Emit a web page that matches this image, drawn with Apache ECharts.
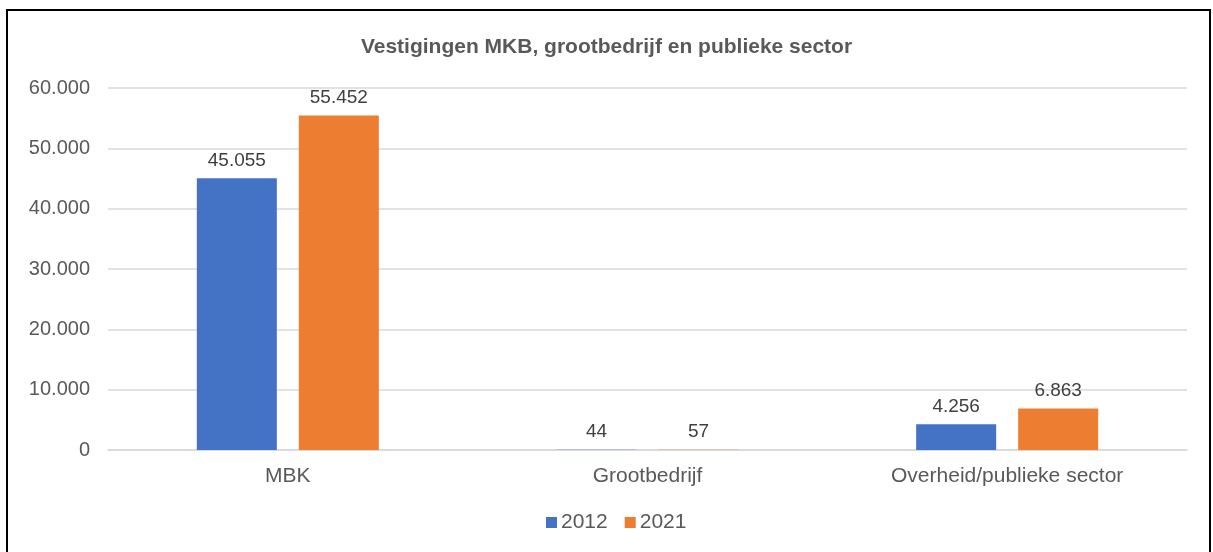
<!DOCTYPE html>
<html>
<head>
<meta charset="utf-8">
<script src="https://cdn.jsdelivr.net/npm/echarts@6/dist/echarts.min.js"></script>
<style>
  html, body { margin: 0; padding: 0; background: #fff; }
  #chart { width: 1213px; height: 552px; }
</style>
</head>
<body>
<div id="chart"></div>
<script>
// categorieen en waarden
const categories = ['MBK', 'Grootbedrijf', 'Overheid/publieke sector'];
const values2012 = [45055, 44, 4256];
const values2021 = [55452, 57, 6863];
const seriesNames = ['2012', '2021'];

// getallen met punt als duizendtal-scheiding
const nl = v => String(v).replace(/\B(?=(\d{3})+(?!\d))/g, '.');

const chart = echarts.init(document.getElementById('chart'));
chart.setOption({
  animation: false,
  textStyle: { fontFamily: 'Liberation Sans, Arial, sans-serif' },
  title: {
    text: 'Vestigingen MKB, grootbedrijf en publieke sector',
    left: 'center',
    top: 32,
    textStyle: { fontSize: 21, fontWeight: 'bold', color: '#595959' }
  },
  graphic: [{
    type: 'rect',
    shape: { x: 7, y: 10, width: 1203, height: 600 },
    style: { fill: 'none', stroke: '#000', lineWidth: 2 },
    silent: true
  }],
  legend: {
    data: seriesNames,
    bottom: 14,
    left: 541,
    icon: 'rect',
    itemWidth: 11,
    itemHeight: 11,
    itemGap: 17,
    textStyle: { fontSize: 21, color: '#595959', padding: [0, 0, 0, -1] }
  },
  grid: { left: 108, right: 26, top: 88, bottom: 102 },
  xAxis: {
    type: 'category',
    data: categories,
    axisTick: { show: false },
    axisLine: { lineStyle: { color: '#d9d9d9', width: 1.5 } },
    axisLabel: { fontSize: 21, color: '#595959', margin: 16 }
  },
  yAxis: {
    type: 'value',
    min: 0,
    max: 60000,
    interval: 10000,
    axisLine: { show: false },
    axisTick: { show: false },
    splitLine: { lineStyle: { color: '#d9d9d9', width: 1.5 } },
    axisLabel: { fontSize: 20, color: '#595959', margin: 18, formatter: nl }
  },
  series: [
    {
      name: seriesNames[0],
      type: 'bar',
      data: values2012,
      barWidth: 80,
      barGap: '27.5%',
      itemStyle: { color: '#4472C4' },
      label: { show: true, position: 'top', distance: 8, fontSize: 19, color: '#404040', formatter: p => nl(p.value) }
    },
    {
      name: seriesNames[1],
      type: 'bar',
      data: values2021,
      barWidth: 80,
      barGap: '27.5%',
      itemStyle: { color: '#ED7D31' },
      label: { show: true, position: 'top', distance: 8, fontSize: 19, color: '#404040', formatter: p => nl(p.value) }
    }
  ]
});
</script>
</body>
</html>
